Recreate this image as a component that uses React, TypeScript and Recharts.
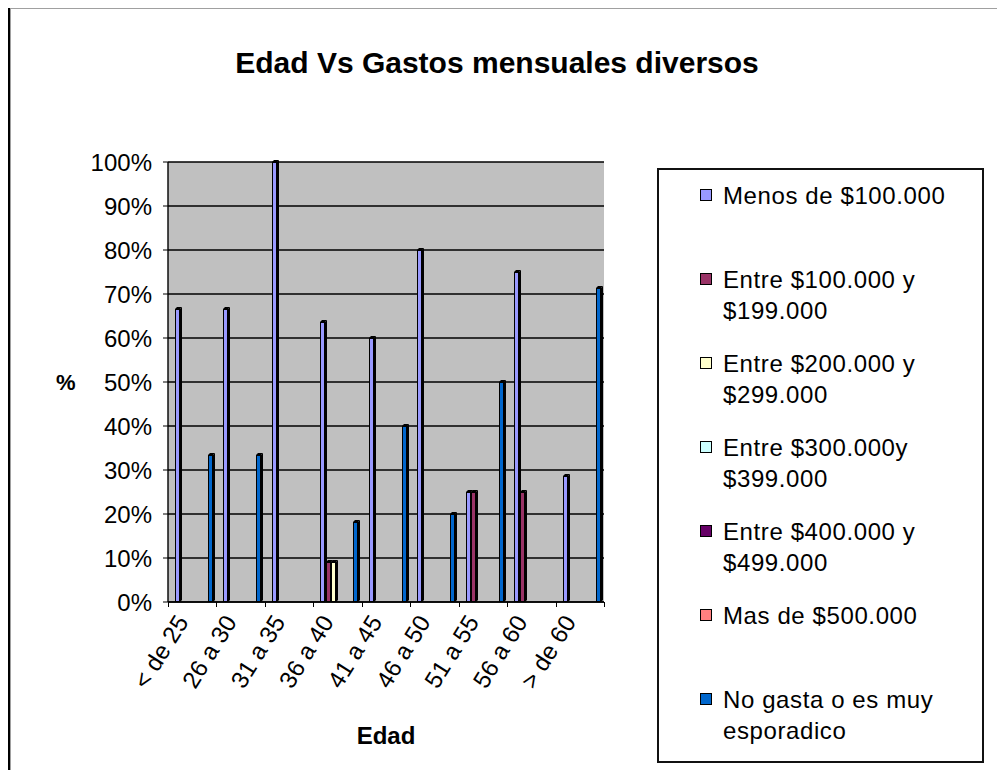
import { BarChart, Bar, XAxis, YAxis, CartesianGrid } from 'recharts';

const categories = ['< de 25', '26 a 30', '31 a 35', '36 a 40', '41 a 45', '46 a 50', '51 a 55', '56 a 60', '> de 60'];

// porcentajes por rango de edad
const menos100 = [66.7, 66.7, 100, 63.6, 60, 80, 25, 75, 28.6];
const entre100 = [0, 0, 0, 9.1, 0, 0, 25, 25, 0];
const entre200 = [0, 0, 0, 9.1, 0, 0, 0, 0, 0];
const entre300 = [0, 0, 0, 0, 0, 0, 0, 0, 0];
const entre400 = [0, 0, 0, 0, 0, 0, 0, 0, 0];
const mas500 = [0, 0, 0, 0, 0, 0, 0, 0, 0];
const noGasta = [33.3, 33.3, 0, 18.2, 40, 20, 50, 0, 71.4];

const yTicks = [0, 10, 20, 30, 40, 50, 60, 70, 80, 90, 100];

const series = [
  { key: 'menos100', label: 'Menos de $100.000', color: '#9999FF', values: menos100 },
  { key: 'entre100', label: 'Entre $100.000 y\n$199.000', color: '#993366', values: entre100 },
  { key: 'entre200', label: 'Entre $200.000 y\n$299.000', color: '#FFFFCC', values: entre200 },
  { key: 'entre300', label: 'Entre $300.000y\n$399.000', color: '#CCFFFF', values: entre300 },
  { key: 'entre400', label: 'Entre $400.000 y\n$499.000', color: '#660066', values: entre400 },
  { key: 'mas500', label: 'Mas de $500.000', color: '#FF8080', values: mas500 },
  { key: 'noGasta', label: 'No gasta o es muy\nesporadico', color: '#0066CC', values: noGasta },
];

const data = categories.map((edad, i) => {
  const row: Record<string, string | number> = { edad };
  series.forEach((s) => { row[s.key] = s.values[i]; });
  return row;
});

const FONT = "'Liberation Sans', Arial, sans-serif";
const PLOT_W = 436;
const BAND = PLOT_W / categories.length;

// barra con un poco de profundidad, como el grafico original
function Bar3D(props: any) {
  const { x, y, height, fill } = props;
  if (!height || height <= 0) return null;
  const x0 = Math.round(x) + 2;
  const y0 = Math.round(y);
  const yb = Math.round(y + height);
  return (
    <g>
      <rect x={x0 + 0.5} y={y0 + 0.5} width={4} height={Math.max(yb - y0 - 1, 0)} fill={fill} stroke="#000" strokeWidth={1} />
      <polygon points={`${x0 + 5},${y0} ${x0 + 7},${y0 - 2} ${x0 + 7},${yb - 2} ${x0 + 5},${yb}`} fill="#000" />
      <polygon points={`${x0},${y0} ${x0 + 2},${y0 - 2} ${x0 + 7},${y0 - 2} ${x0 + 5},${y0}`} fill="#000" />
    </g>
  );
}

function EdadTick(props: any) {
  const { x, y, payload, index } = props;
  const half = BAND / 2;
  const tx = x - 3;
  const ty = y + 20;
  return (
    <g>
      <line x1={Math.round(x - half) + 0.5} y1={y} x2={Math.round(x - half) + 0.5} y2={y + 5} stroke="#000" />
      {index === categories.length - 1 && (
        <line x1={Math.round(x + half) + 0.5} y1={y} x2={Math.round(x + half) + 0.5} y2={y + 5} stroke="#000" />
      )}
      <text x={tx} y={ty} transform={`rotate(-58, ${tx}, ${ty})`} textAnchor="end" fontSize={24} fill="#000" fontFamily={FONT}>
        {payload.value}
      </text>
    </g>
  );
}

export default function App() {
  return (
    <div
      style={{
        position: 'relative',
        marginTop: -2,
        width: 990,
        height: 762,
        borderTop: '2px solid #000',
        borderLeft: '2px solid #000',
        boxShadow: 'inset 1px 1px 0 #a0a0a0',
        fontFamily: FONT,
        color: '#000',
        background: '#fff',
      }}
    >
      <div
        style={{
          position: 'absolute',
          left: 0,
          top: 40,
          width: 974,
          textAlign: 'center',
          fontSize: 30,
          lineHeight: '30px',
          fontWeight: 'bold',
        }}
      >
        Edad Vs Gastos mensuales diversos
      </div>

      <div style={{ position: 'absolute', left: 0, top: 0 }}>
        <BarChart
          width={640}
          height={770}
          data={data}
          margin={{ top: 154, right: 46, bottom: 0, left: 0 }}
          barSize={5}
          barGap={0.5}
        >
          <CartesianGrid vertical={false} stroke="#000" strokeWidth={1.4} fill="#C0C0C0" fillOpacity={1} />
          <XAxis
            dataKey="edad"
            height={176}
            interval={0}
            tickLine={false}
            tickSize={0}
            tickMargin={0}
            axisLine={{ stroke: '#000', strokeWidth: 1.4 }}
            tick={<EdadTick />}
            label={{ value: 'Edad', position: 'insideBottom', offset: 34, fontSize: 24, fontWeight: 'bold', fill: '#000', fontFamily: FONT }}
          />
          <YAxis
            width={158}
            domain={[0, 100]}
            ticks={yTicks}
            tickFormatter={(v: number) => `${v}%`}
            tickSize={5}
            tickMargin={11}
            tickLine={{ stroke: '#000' }}
            axisLine={{ stroke: '#000', strokeWidth: 1.4 }}
            tick={{ fontSize: 24, fill: '#000', fontFamily: FONT }}
            label={{ value: '%', position: 'insideLeft', offset: 46, fontSize: 22, fontWeight: 'bold', fill: '#000', fontFamily: FONT }}
          />
          {series.map((s) => (
            <Bar key={s.key} dataKey={s.key} name={s.label} fill={s.color} shape={<Bar3D />} isAnimationActive={false} />
          ))}
        </BarChart>
      </div>

      {/* Leyenda */}
      <div
        style={{
          position: 'absolute',
          left: 647,
          top: 160,
          width: 327,
          height: 595,
          boxSizing: 'border-box',
          border: '2px solid #111',
          paddingTop: 10,
        }}
      >
        {series.map((s) => (
          <div key={s.key} style={{ position: 'relative', height: 84, fontSize: 24, lineHeight: '31px', letterSpacing: 0.6 }}>
            <span
              style={{
                position: 'absolute',
                left: 41,
                top: 9,
                width: 12,
                height: 12,
                boxSizing: 'border-box',
                border: '1px solid #000',
                background: s.color,
              }}
            />
            <div style={{ position: 'absolute', left: 64, top: 0, whiteSpace: 'pre-line' }}>{s.label}</div>
          </div>
        ))}
      </div>
    </div>
  );
}
